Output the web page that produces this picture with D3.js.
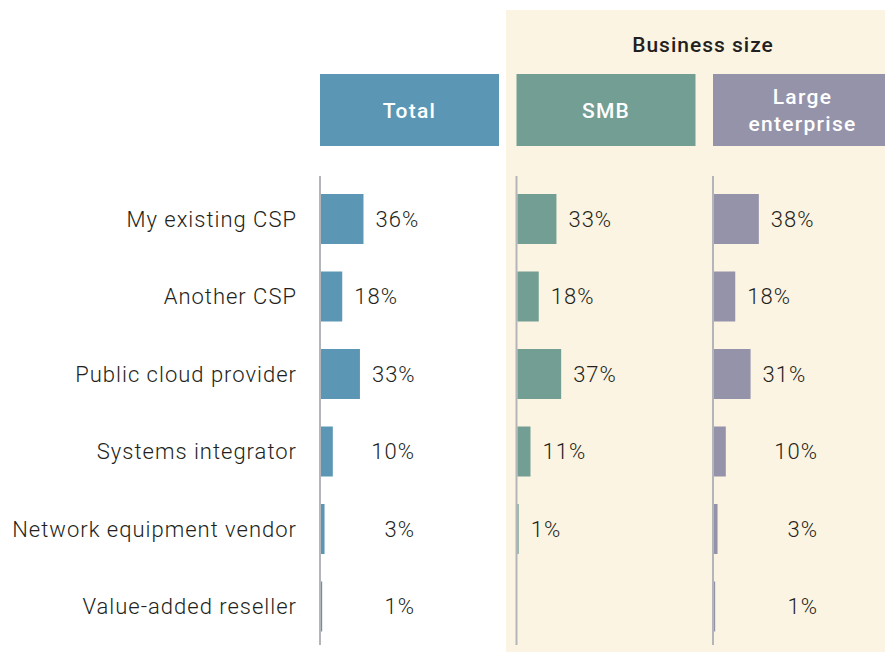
<!DOCTYPE html>
<html>
<head>
<meta charset="utf-8">
<script src="https://cdn.jsdelivr.net/npm/d3@7"></script>
<style>
  html, body { margin: 0; padding: 0; background: #fff; }
  svg { display: block; font-family: Roboto, "DejaVu Sans", sans-serif; }
</style>
</head>
<body>
<div id="chart"></div>
<script>
// chart data
const categories = [
  "My existing CSP",
  "Another CSP",
  "Public cloud provider",
  "Systems integrator",
  "Network equipment vendor",
  "Value-added reseller"
];
const seriesNames = ["Total", "SMB", "Large enterprise"];
const totalValues = [36, 18, 33, 10, 3, 1];
const smbValues = [33, 18, 37, 11, 1, null];
const largeValues = [38, 18, 31, 10, 3, 1];
const groupTitle = "Business size";

//columns built from the arrays above (smallEnd = where short labels end)
const columns = [
  { name: seriesNames[0], values: totalValues, color: "#5b97b4", smallEnd: 95 },
  { name: seriesNames[1], values: smbValues, color: "#729e94", smallEnd: null },
  { name: seriesNames[2], values: largeValues, color: "#9593aa", smallEnd: 105 }
];

const width = 885, height = 652;
const svg = d3.select("#chart").append("svg")
  .attr("width", width)
  .attr("height", height);

//beige panel behind the business size columns
svg.append("rect")
  .attr("x", 506).attr("y", 10)
  .attr("width", width - 506).attr("height", height - 10)
  .attr("fill", "#fcf4e2");

svg.append("text")
  .attr("x", 703).attr("y", 52)
  .attr("text-anchor", "middle")
  .attr("font-size", 21)
  .attr("font-weight", 500)
  .attr("letter-spacing", 1)
  .attr("fill", "#231f20")
  .text(groupTitle);

//column positions
const colX = d3.scaleLinear().domain([0, 1]).range([320, 516.5]);
const boxW = 179;

//row scale
const y = d3.scaleBand()
  .domain(categories)
  .range([180.25, 645.25])
  .paddingInner(0.355)
  .paddingOuter(0.1775);

//bar length scale (shared by all columns)
const x = d3.scaleLinear().domain([0, 100]).range([0, 118]);

//category labels
svg.append("g")
  .selectAll("text")
  .data(categories)
  .join("text")
  .attr("x", 297)
  .attr("y", d => y(d) + y.bandwidth() / 2)
  .attr("dy", "0.36em")
  .attr("text-anchor", "end")
  .attr("font-size", 22)
  .attr("font-weight", 300)
  .attr("letter-spacing", 1)
  .attr("fill", "#231f20")
  .text(d => d);

columns.forEach((col, ci) => {
  const x0 = colX(ci);
  const g = svg.append("g").attr("transform", `translate(${x0},0)`);

  //header box
  g.append("rect")
    .attr("x", 0).attr("y", 74)
    .attr("width", boxW).attr("height", 72)
    .attr("fill", col.color);

  const words = col.name.split(" ");
  const lines = words.length > 1 ? words : [col.name];
  g.append("text")
    .attr("x", boxW / 2)
    .attr("y", 110 - (lines.length - 1) * 13.5)
    .attr("text-anchor", "middle")
    .attr("font-size", 21)
    .attr("font-weight", 500)
    .attr("letter-spacing", 1.3)
    .attr("fill", "#fff")
    .selectAll("tspan")
    .data(lines)
    .join("tspan")
    .attr("x", boxW / 2)
    .attr("dy", (d, i) => i === 0 ? "0.36em" : "1.28em")
    .text(d => d);

  //axis line
  g.append("line")
    .attr("x1", 0).attr("x2", 0)
    .attr("y1", 176).attr("y2", 645)
    .attr("stroke", "#b3b5b8")
    .attr("stroke-width", 2);

  const rows = categories.map((c, i) => ({ cat: c, v: col.values[i] }))
    .filter(d => d.v != null);
  const isSmall = d => col.smallEnd != null && d.v <= 10;

  //bars
  g.selectAll(".bar")
    .data(rows)
    .join("rect")
    .attr("class", "bar")
    .attr("x", 1)
    .attr("y", d => y(d.cat))
    .attr("width", d => x(d.v))
    .attr("height", y.bandwidth())
    .attr("fill", col.color);

  //value labels
  g.selectAll(".val")
    .data(rows)
    .join("text")
    .attr("class", "val")
    .attr("x", d => isSmall(d) ? col.smallEnd : x(d.v) + 13)
    .attr("text-anchor", d => isSmall(d) ? "end" : "start")
    .attr("y", d => y(d.cat) + y.bandwidth() / 2)
    .attr("dy", "0.36em")
    .attr("font-size", 22)
    .attr("font-weight", 300)
    .attr("letter-spacing", 1)
    .attr("fill", "#231f20")
    .text(d => d.v + "%");
});
</script>
</body>
</html>
